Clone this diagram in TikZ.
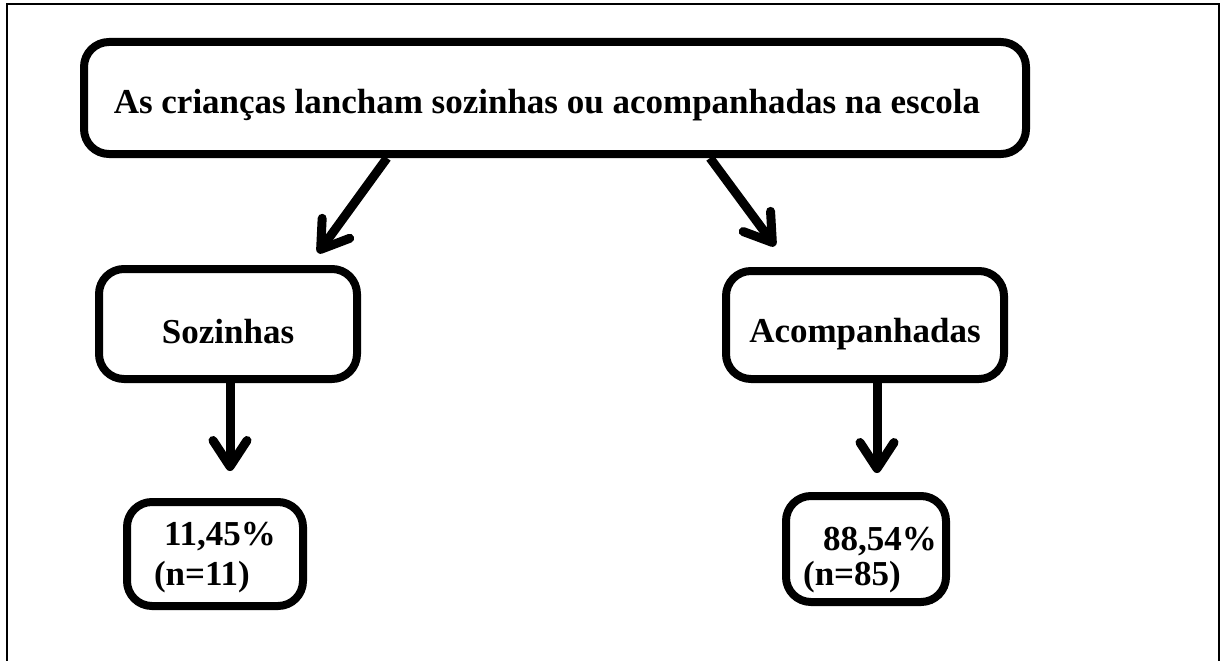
\documentclass[tikz,border=0pt]{standalone}
\usepackage{fontspec}
\setmainfont{Liberation Serif}
\usetikzlibrary{calc}
\usetikzlibrary{arrows.meta}
\tikzset{
	caixa/.style={draw, rectangle, rounded corners=25pt, line width=8pt, inner sep=0pt,
		font=\bfseries\fontsize{35}{38}\selectfont},
	seta/.style={line width=9pt, -{Straight Barb[length=26pt, width=34pt, round]}}
}
\newcommand{\duaslinhas}[4]{\raisebox{#1}[0pt][0pt]{\begin{tabular}[t]{@{}l@{}}#2\\[#4]#3\end{tabular}}}

\begin{document}
\begin{tikzpicture}[x=1pt, y=-1pt]
\useasboundingbox (0,0) rectangle (1221,661);
\draw [line width=2pt] (7,661) -- (7,4) -- (1219,4) -- (1219,661);

\node [caixa, minimum width=942pt, minimum height=112pt, text height=30pt, text depth=0pt] (pergunta) at (555 ,98) {\hspace*{-16pt}As crianças lancham sozinhas ou acompanhadas na escola};
\node [caixa, minimum width=258pt, minimum height=110pt, text height=38pt, text depth=0pt] (soz) at (228 ,324) {Sozinhas};
\node [caixa, minimum width=278pt, minimum height=108pt, text height=34pt, text depth=0pt] (acomp) at (865 ,325) {Acompanhadas};
\node [caixa, minimum width=176pt, minimum height=104pt] (sozn) at (215 ,554) {\duaslinhas{9pt}{\hspace*{10pt}11,45\%}{(n=11)}{2pt}};
\node [caixa, minimum width=160pt, minimum height=106pt] (acompn) at (866 ,549) {\hspace*{8pt}\duaslinhas{-1pt}{\hspace*{20pt}88,54\%}{(n=85)}{-3pt}};

\draw [seta] ([xshift=-168pt]pergunta.south) -- ([xshift=90pt, yshift=12pt]soz.north);
\draw [seta] ([xshift=155pt]pergunta.south) -- ([xshift=-90pt, yshift=21pt]acomp.north);
\draw [seta] ([xshift=2pt]soz.south) -- ($(soz.south |- sozn.north)+(2pt,27pt)$);
\draw [seta] ([xshift=12pt]acomp.south) -- ($(acomp.south |- acompn.north)+(12pt,19pt)$);
\end{tikzpicture}
\end{document}
